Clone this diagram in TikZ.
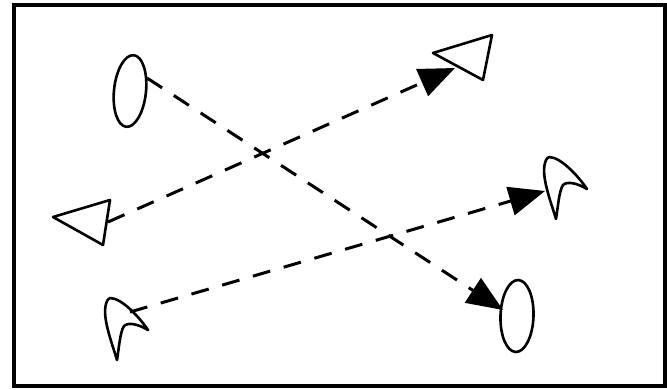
\documentclass[tikz,border=0pt]{standalone}
\usetikzlibrary{arrows.meta,shapes.geometric}
\tikzset{
  frame/.style={line width=4.5pt},
  shapeline/.style={line width=2.6pt, line join=round, line cap=round},
  oval/.style={ellipse, draw, line width=2.6pt, inner sep=0pt},
  conn/.style={line width=3pt, dash pattern=on 18pt off 14pt, -{Triangle[length=36pt,width=29pt]}},
  dart/.pic={\draw[shapeline] (0,0) .. controls (12,0) and (30,20) .. (38,32)
      .. controls (28,26) and (18,24) .. (14,28)
      .. controls (10,34) and (9,50) .. (7,62)
      .. controls (2,45) and (-8,20) .. (-4,6)
      .. controls (-3,2) and (-1,0) .. (0,0);}
}
\begin{document}
\begin{tikzpicture}[x=1pt,y=-1pt]
\useasboundingbox (0,0) rectangle (667,389);
\fill[white] (0,0) rectangle (667,389);
\draw[frame] (14,5) rectangle (665,386);

% ellipses
\node[oval, minimum width=32pt, minimum height=72pt, rotate=-6] (ovA) at (130,91) {};
\node[oval, minimum width=33pt, minimum height=72pt, rotate=-2] (ovB) at (517,316) {};

% triangles
\draw[shapeline] (433,53) -- (492,35) -- (483,80) -- cycle;
\draw[shapeline] (53,217) -- (110,200) -- (103,245) -- cycle;

% darts
\pic at (549,157) {dart};
\pic at (110,298) {dart};

% connector end points
\coordinate (s1) at (147,78);
\coordinate (t1) at (503,310);
\coordinate (s2) at (108,222);
\coordinate (t2) at (455,68);
\coordinate (s3) at (130,312);
\coordinate (t3) at (545,191);

\draw[conn] (s1) -- (t1);
\draw[conn] (s2) -- (t2);
\draw[conn] (s3) -- (t3);
\end{tikzpicture}
\end{document}
